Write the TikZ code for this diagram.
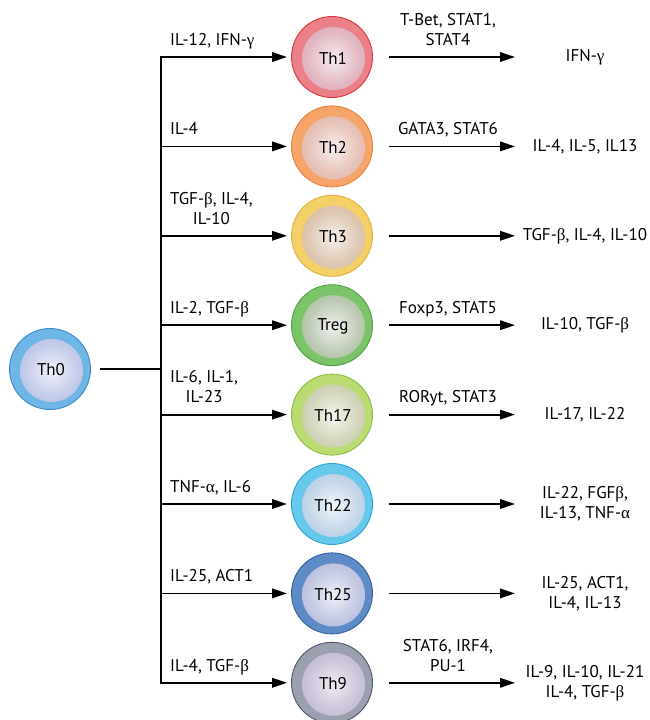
\documentclass[tikz,border=0pt]{standalone}
\usepackage{fontspec}
\setmainfont{PT Sans}
\newfontfamily\grk{Liberation Serif}
\usetikzlibrary{arrows.meta}
\newcommand\gk[1]{{\grk #1}}
\colorlet{cin}{white}
\colorlet{cout}{gray}
\colorlet{cmid}{gray}
\pgfdeclareradialshading[cin,cmid,cout]{cellshade}{\pgfpoint{0bp}{0bp}}{color(0bp)=(cin); color(20bp)=(cmid); color(50bp)=(cout); color(52bp)=(cout)}
\tikzset{
  link/.style={line width=1.8pt},
  arr/.style={line width=1.8pt, -{Triangle[length=15pt,width=9.5pt]}},
  cellring/.style={circle, minimum size=81pt, inner sep=0pt, line width=0.9pt},
  celltext/.style={font=\fontsize{17}{19}\selectfont, inner sep=0pt},
  lbl/.style={font=\fontsize{17}{20}\selectfont, align=center, inner sep=0pt, text depth=4.5pt},
}
\newcommand\cellnode[8]{%
  \definecolor{cin}{HTML}{#6}\definecolor{cout}{HTML}{#7}%
  \colorlet{cmid}{cin!50!cout}%
  \definecolor{cring}{HTML}{#4}\definecolor{cline}{HTML}{#5}%
  \node[cellring, fill=cring, draw=cline] (#1) at (#2,#3) {};
  \shade[shading=cellshade] ([shift={(1.5,1.5)}]#1.center) circle (31.5);
  \node[celltext] (#1t) at ([shift={(1,1)}]#1.center) {#8};
}
\begin{document}
\begin{tikzpicture}[x=1pt,y=-1pt]
\useasboundingbox (0,0) rectangle (649,720);
% cells
\cellnode{th0}{50}{369}{6DB6E6}{3D88C8}{F2F2FA}{98A8DA}{Th0}
\cellnode{th1}{332}{57}{EC8088}{D8353E}{F5ECEF}{D28899}{Th1}
\cellnode{th2}{332}{146.4}{F6A56A}{E77F35}{F6EEEC}{D99A88}{Th2}
\cellnode{th3}{332}{235.8}{F4D068}{E0B23A}{F3EFEA}{CCA27E}{Th3}
\cellnode{treg}{332}{325.2}{7CC46A}{4EA243}{F1F2EF}{8CA57C}{Treg}
\cellnode{th17}{332}{414.6}{BADB72}{8DBC47}{F5F5EE}{B0B688}{Th17}
\cellnode{th22}{332}{504}{66C8EA}{2E9ED1}{F1F5FA}{98B8D8}{Th22}
\cellnode{th25}{332}{593.4}{5E8BC5}{33619E}{EFF0F8}{98A1CF}{Th25}
\cellnode{th9}{332}{682.8}{9AA0AE}{505666}{EFEBF3}{AA9EBF}{Th9}
% trunk
\coordinate (vtop) at (161,57);
\coordinate (vbot) at (161,682.8);
\coordinate (vmid) at (161,369);
\draw[link] ([xshift=9pt]th0.east) -- (vmid);
\draw[link, line cap=rect] (vtop) -- (vbot);
% input arrows and labels
\foreach \n/\t in {th1/{IL-12, IFN-\gk{γ}}, th2/{IL-4}, th3/{TGF-\gk{β}, IL-4,\\IL-10}, treg/{IL-2, TGF-\gk{β}}, th17/{IL-6, IL-1,\\IL-23}, th22/{TNF-\gk{α}, IL-6}, th25/{IL-25, ACT1}, th9/{IL-4, TGF-\gk{β}}}{
  \coordinate (\n in) at (vtop |- \n.center);
  \draw[arr, shorten >=4pt] (\n in) -- (\n.west);
  \node[lbl, anchor=south west] (\n inl) at ([shift={(9,-7)}]\n in) {\t};
}
% output arrows
\foreach \n in {th1,th2,th3,treg,th17,th22,th25,th9}{
  \coordinate (\n e) at (515, 0 |- \n.center);
  \draw[arr] ([xshift=16pt]\n.east) -- (\n e);
}
% mid labels
\foreach \n/\t in {th1/{T-Bet, STAT1,\\STAT4}, th2/{GATA3, STAT6}, treg/{Foxp3, STAT5}, th17/{RORyt, STAT3}, th9/{STAT6, IRF4,\\PU-1}}{
  \node[lbl, anchor=south] (\n ml) at ([shift={(116,-7)}]\n.center) {\t};
}
% output labels
\foreach \n/\t in {th1/{IFN-\gk{γ}}, th2/{IL-4, IL-5, IL13}, th3/{TGF-\gk{β}, IL-4, IL-10}, treg/{IL-10, TGF-\gk{β}}, th17/{IL-17, IL-22}, th22/{IL-22, FGF\gk{β},\\IL-13, TNF-\gk{α}}, th25/{IL-25, ACT1,\\IL-4, IL-13}, th9/{IL-9, IL-10, IL-21\\IL-4, TGF-\gk{β}}}{
  \node[lbl, text depth=, anchor=center] (\n out) at ([xshift=253pt]\n.center) {\t};
}
\end{tikzpicture}
\end{document}
